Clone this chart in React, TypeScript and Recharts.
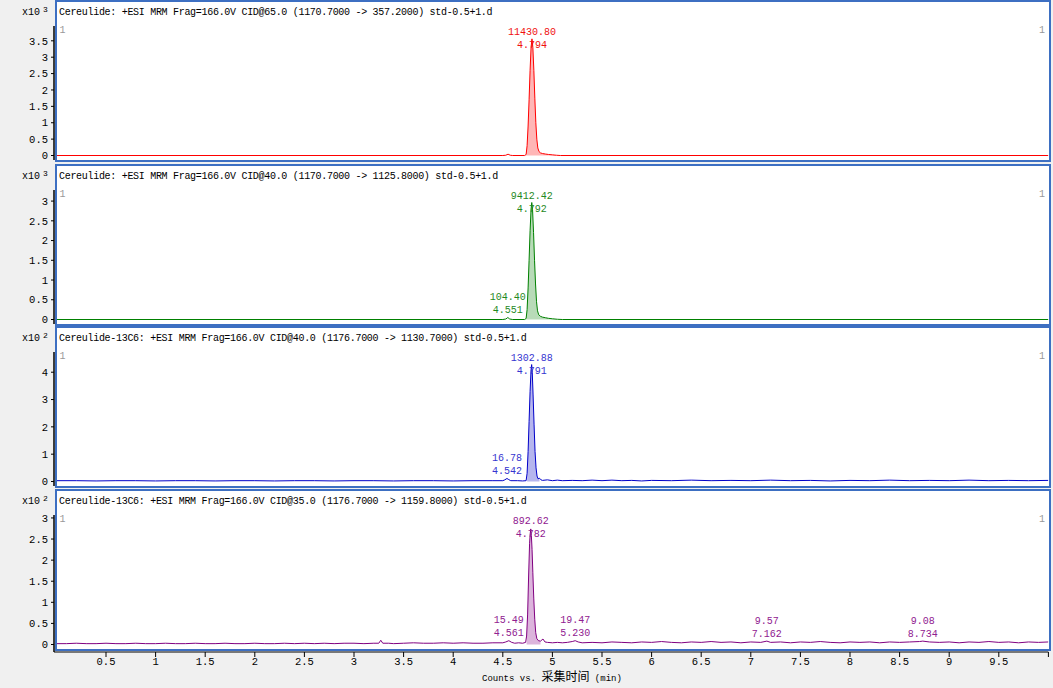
import React from 'react';
import { ComposedChart, Line, Area, XAxis, YAxis, ReferenceDot } from 'recharts';

const MONO = '"Liberation Mono", "DejaVu Sans Mono", monospace';
const CJK = '"Noto Sans CJK SC", sans-serif';
const BORDER = '#3d6fc2';
const BG = '#f0f0f0';

const W = 1053;
const BOX_LEFT = 55;
const BOX_RIGHT = 1051;
const PANEL_H = 162;
const panelTops = [0, 164, 326, 489];

const titles = [
  'Cereulide: +ESI MRM Frag=166.0V CID@65.0 (1170.7000 -> 357.2000) std-0.5+1.d',
  'Cereulide: +ESI MRM Frag=166.0V CID@40.0 (1170.7000 -> 1125.8000) std-0.5+1.d',
  'Cereulide-13C6: +ESI MRM Frag=166.0V CID@40.0 (1176.7000 -> 1130.7000) std-0.5+1.d',
  'Cereulide-13C6: +ESI MRM Frag=166.0V CID@35.0 (1176.7000 -> 1159.8000) std-0.5+1.d',
];
const exponents = ['3', '3', '2', '2'];
const lineColors = ['#ff0000', '#008000', '#0000c8', '#800080'];
const textColors = ['#f01010', '#1f8a1f', '#3535d0', '#902090'];
const fillColors = ['#ffb6b6', '#b8dbb8', '#b6b6ee', '#dcb4dc'];

const timeTicks = [0.5, 1, 1.5, 2, 2.5, 3, 3.5, 4, 4.5, 5, 5.5, 6, 6.5, 7, 7.5, 8, 8.5, 9, 9.5, 10];
const xAxisTitleLatin = 'Counts vs. ';
const xAxisTitleCjk = '采集时间';
const xAxisTitleUnit = ' (min)';

// [time (min), counts]
const trace1: [number, number][] = [
  [0, 0], [4.5, 0], [4.53, 8], [4.553, 40], [4.575, 8], [4.6, 0], [4.72, 0], [4.735, 30],
  [4.745, 300], [4.755, 900], [4.765, 1700], [4.775, 2600], [4.785, 3300], [4.794, 3560],
  [4.803, 3300], [4.813, 2600], [4.823, 1750], [4.833, 1000], [4.843, 500], [4.853, 230],
  [4.865, 120], [4.88, 80], [4.9, 60], [4.93, 45], [4.96, 32], [5.0, 20], [5.04, 8], [5.08, 0], [10, 0],
];
const trace2: [number, number][] = [
  [0, 0], [4.5, 0], [4.53, 12], [4.551, 50], [4.57, 12], [4.6, 0], [4.72, 0], [4.735, 25],
  [4.745, 250], [4.755, 800], [4.765, 1500], [4.775, 2250], [4.785, 2800], [4.792, 2964],
  [4.8, 2780], [4.81, 2200], [4.82, 1500], [4.83, 900], [4.84, 450], [4.85, 220], [4.862, 120],
  [4.88, 80], [4.9, 60], [4.93, 45], [4.96, 30], [5.0, 18], [5.05, 6], [5.1, 0], [10, 0],
];
const trace3: [number, number][] = [
  [0, 3], [0.2, 3], [0.4, 2], [0.6, 3], [0.8, 3], [1.0, 2], [1.2, 3], [1.4, 3], [1.6, 2], [1.8, 3],
  [2.0, 3], [2.2, 2], [2.4, 3], [2.6, 3], [2.8, 2], [3.0, 3], [3.2, 3], [3.4, 2], [3.6, 3], [3.8, 3],
  [4.0, 2], [4.2, 3], [4.4, 3], [4.5, 3], [4.52, 6], [4.542, 11], [4.56, 7], [4.58, 3], [4.65, 3],
  [4.7, 2], [4.735, 3], [4.745, 30], [4.755, 110], [4.765, 220], [4.775, 330], [4.785, 410],
  [4.791, 428], [4.797, 400], [4.805, 320], [4.815, 210], [4.825, 110], [4.835, 50], [4.845, 20],
  [4.855, 10], [4.87, 12], [4.885, 6], [4.9, 4], [4.95, 6], [5.0, 3], [5.05, 5], [5.1, 3], [5.2, 4],
  [5.3, 3], [5.4, 5], [5.5, 3], [5.6, 5], [5.7, 3], [5.8, 4], [5.9, 2], [6.0, 4], [6.2, 3], [6.4, 5],
  [6.6, 3], [6.8, 4], [7.0, 3], [7.2, 5], [7.4, 3], [7.6, 4], [7.8, 2], [8.0, 4], [8.2, 3], [8.4, 5],
  [8.6, 3], [8.8, 4], [9.0, 3], [9.2, 5], [9.4, 3], [9.6, 4], [9.8, 3], [10, 4],
];
const trace4: [number, number][] = [
  [0, 2], [0.1, 2], [0.2, 3], [0.3, 2], [0.4, 2], [0.5, 3], [0.6, 2], [0.7, 2], [0.8, 3], [0.9, 2],
  [1.0, 2], [1.1, 3], [1.2, 2], [1.3, 2], [1.4, 3], [1.5, 2], [1.6, 2], [1.7, 3], [1.8, 2], [1.9, 2],
  [2.0, 3], [2.1, 2], [2.2, 2], [2.3, 3], [2.4, 2], [2.5, 3], [2.6, 2], [2.7, 3], [2.8, 2], [2.9, 3],
  [3.0, 3], [3.1, 2], [3.2, 3], [3.25, 3], [3.27, 10], [3.29, 3], [3.35, 3], [3.4, 2], [3.5, 3],
  [3.6, 4], [3.7, 3], [3.8, 3], [3.9, 4], [4.0, 3], [4.1, 4], [4.2, 3], [4.3, 3], [4.4, 4], [4.5, 4],
  [4.53, 6], [4.561, 9], [4.59, 5], [4.62, 3], [4.66, 4], [4.7, 3], [4.73, 5], [4.74, 20], [4.75, 70],
  [4.76, 160], [4.77, 240], [4.776, 262], [4.782, 274], [4.788, 258], [4.795, 225], [4.803, 170],
  [4.812, 110], [4.822, 60], [4.832, 28], [4.843, 14], [4.86, 9], [4.88, 8], [4.905, 13], [4.925, 6],
  [4.95, 5], [5.0, 4], [5.05, 5], [5.1, 4], [5.15, 5], [5.2, 7], [5.23, 9], [5.26, 6], [5.3, 4],
  [5.4, 5], [5.5, 4], [5.6, 6], [5.7, 5], [5.8, 4], [5.9, 6], [6.0, 5], [6.1, 7], [6.2, 5], [6.3, 4],
  [6.4, 6], [6.5, 5], [6.6, 7], [6.7, 5], [6.8, 6], [6.9, 4], [7.0, 6], [7.1, 5], [7.162, 8],
  [7.2, 5], [7.3, 6], [7.4, 4], [7.5, 6], [7.6, 5], [7.7, 7], [7.8, 5], [7.9, 4], [8.0, 6], [8.1, 5],
  [8.2, 6], [8.3, 4], [8.4, 6], [8.5, 5], [8.6, 6], [8.7, 7], [8.734, 8], [8.8, 6], [8.9, 5],
  [9.0, 6], [9.1, 4], [9.2, 6], [9.3, 5], [9.4, 7], [9.5, 5], [9.6, 6], [9.7, 4], [9.8, 6], [9.9, 5], [10, 6],
];
const traces = [trace1, trace2, trace3, trace4];

const yTicks1 = [0, 500, 1000, 1500, 2000, 2500, 3000, 3500];
const yTicks2 = [0, 500, 1000, 1500, 2000, 2500, 3000];
const yTicks3 = [0, 100, 200, 300, 400];
const yTicks4 = [0, 50, 100, 150, 200, 250, 300];
const yTicks = [yTicks1, yTicks2, yTicks3, yTicks4];
const yDomains: [number, number][] = [[-137, 3952], [-114, 3281], [-16.5, 474], [-10.7, 307]];
const yDivisors = [1000, 1000, 100, 100];
const fillRanges: [number, number][] = [[4.73, 5.05], [4.73, 5.06], [4.74, 4.87], [4.735, 4.9]];

type Peak = { t: number; y: number; a: string; r: string };
const peaks1: Peak[] = [{ t: 4.794, y: 3560, a: '11430.80', r: '4.794' }];
const peaks2: Peak[] = [
  { t: 4.792, y: 2964, a: '9412.42', r: '4.792' },
  { t: 4.551, y: 50, a: '104.40', r: '4.551' },
];
const peaks3: Peak[] = [
  { t: 4.791, y: 428, a: '1302.88', r: '4.791' },
  { t: 4.542, y: 11, a: '16.78', r: '4.542' },
];
const peaks4: Peak[] = [
  { t: 4.782, y: 274, a: '892.62', r: '4.782' },
  { t: 4.561, y: 9, a: '15.49', r: '4.561' },
  { t: 5.23, y: 9, a: '19.47', r: '5.230' },
  { t: 7.162, y: 8, a: '9.57', r: '7.162' },
  { t: 8.734, y: 8, a: '9.08', r: '8.734' },
];
const peaks = [peaks1, peaks2, peaks3, peaks4];

const PLOT_TOP = 26;

function PeakMark(props: { cx?: number; cy?: number; area: string; rt: string; color: string }) {
  const { cx, cy, area, rt, color } = props;
  if (cx == null || cy == null || isNaN(cx) || isNaN(cy)) return null;
  const l1 = Math.max(cy - 21, PLOT_TOP + 5.5);
  const common = {
    textAnchor: 'middle' as const,
    fill: color,
    fontSize: 10,
    fontFamily: MONO,
    dy: '0.35em',
  };
  return (
    <g>
      <text x={cx} y={l1} {...common}>{area}</text>
      <text x={cx} y={l1 + 13} {...common}>{rt}</text>
    </g>
  );
}

function Panel({ i }: { i: number }) {
  const top = panelTops[i];
  const last = i === 3;
  const h = last ? 688 - top : PANEL_H;
  const [f0, f1] = fillRanges[i];
  const data = traces[i].map(([t, y]) => ({ t, y, f: t >= f0 && t <= f1 ? y : null }));
  const tickStyle = { fontSize: 10.5, fontFamily: MONO, fill: '#000' };
  return (
    <>
      <div style={{ position: 'absolute', left: BOX_LEFT, top, width: BOX_RIGHT - BOX_LEFT, height: PANEL_H, background: '#fff' }} />
      <div style={{ position: 'absolute', left: 0, top, width: W, height: h }}>
        <ComposedChart width={W} height={h} data={data} margin={{ top: PLOT_TOP, right: 4.6, bottom: last ? 0 : 2, left: 0 }}>
          <XAxis
            type="number"
            dataKey="t"
            domain={[0, 10]}
            ticks={timeTicks}
            interval={0}
            allowDataOverflow
            hide={!last}
            padding={{ left: 2.4, right: 0 }}
            height={36}
            tickSize={5}
            tickMargin={1}
            tickFormatter={(v: number) => (v === 10 ? '' : String(v))}
            axisLine={{ stroke: '#000' }}
            tickLine={{ stroke: '#000' }}
            tick={tickStyle}
          />
          <YAxis
            type="number"
            domain={yDomains[i]}
            allowDataOverflow
            ticks={yTicks[i]}
            interval={0}
            width={54}
            tickSize={3}
            tickMargin={3}
            padding={last ? { top: 0, bottom: 3 } : { top: 0, bottom: 0 }}
            axisLine={{ stroke: '#000', strokeWidth: 1.5 }}
            tickLine={{ stroke: '#000' }}
            tick={tickStyle}
            tickFormatter={(v: number) => String(v / yDivisors[i])}
          />
          <Area
            type="linear"
            dataKey="f"
            stroke="none"
            fill={fillColors[i]}
            fillOpacity={1}
            isAnimationActive={false}
            connectNulls={false}
            dot={false}
            activeDot={false}
          />
          <Line
            type="linear"
            dataKey="y"
            stroke={lineColors[i]}
            strokeWidth={1}
            dot={false}
            activeDot={false}
            isAnimationActive={false}
          />
          {peaks[i].map((p) => (
            <ReferenceDot
              key={p.r}
              x={p.t}
              y={p.y}
              r={0}
              ifOverflow="visible"
              shape={(sp: any) => <PeakMark cx={sp.cx} cy={sp.cy} area={p.a} rt={p.r} color={textColors[i]} />}
            />
          ))}
        </ComposedChart>
      </div>
      <div
        style={{
          position: 'absolute', left: BOX_LEFT, top, width: BOX_RIGHT - BOX_LEFT, height: PANEL_H,
          border: `2px solid ${BORDER}`, boxSizing: 'border-box', pointerEvents: 'none',
        }}
      />
      <div style={{ position: 'absolute', left: 59, top: top + 7, fontFamily: MONO, fontSize: 10, letterSpacing: -0.3, lineHeight: '12px', whiteSpace: 'pre', color: '#000' }}>
        {titles[i]}
      </div>
      <div style={{ position: 'absolute', left: 22, top: top + 7, fontFamily: MONO, fontSize: 10, lineHeight: '12px', whiteSpace: 'pre', color: '#000' }}>
        x10<span style={{ fontSize: 8, position: 'relative', top: -3, marginLeft: 3 }}>{exponents[i]}</span>
      </div>
      <div style={{ position: 'absolute', left: 59.5, top: top + 25, fontFamily: MONO, fontSize: 10, lineHeight: '12px', color: '#999' }}>1</div>
      <div style={{ position: 'absolute', left: 1039, top: top + 25, fontFamily: MONO, fontSize: 10, lineHeight: '12px', color: '#999' }}>1</div>
    </>
  );
}

export default function App() {
  return (
    <div style={{ position: 'absolute', left: 0, top: 0, width: W, height: 688, background: BG, overflow: 'hidden' }}>
      {[0, 1, 2, 3].map((i) => (
        <Panel key={i} i={i} />
      ))}
      <div style={{ position: 'absolute', left: 482, top: 668.5, lineHeight: '14px', whiteSpace: 'pre', color: '#000' }}>
        <span style={{ fontFamily: MONO, fontSize: 9 }}>{xAxisTitleLatin}</span>
        <span style={{ fontFamily: CJK, fontSize: 12 }}>{xAxisTitleCjk}</span>
        <span style={{ fontFamily: MONO, fontSize: 9 }}>{xAxisTitleUnit}</span>
      </div>
    </div>
  );
}
